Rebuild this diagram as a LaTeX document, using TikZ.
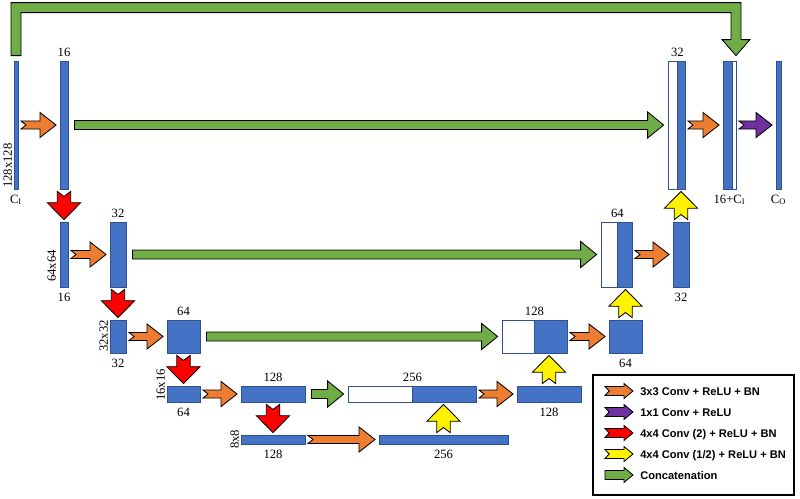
\documentclass[tikz,border=0pt]{standalone}
\usepackage{fontspec}
\newfontfamily\legendfont{Liberation Sans}
\newfontfamily\labelfont{Liberation Serif}
\usetikzlibrary{positioning,fit,calc}

\definecolor{blockblue}{HTML}{4472C4}
\definecolor{blockedge}{HTML}{2F528F}
\definecolor{convorange}{HTML}{ED7D31}
\definecolor{skipgreen}{HTML}{70AD47}
\definecolor{outpurple}{HTML}{7030A0}

\tikzset{
  dims/.code args={#1/#2/#3/#4}{\def\shaftw{#1}\def\headw{#2}\def\headl{#3}\def\notch{#4}},
  gaps/.code args={#1/#2}{\def\gapa{#1}\def\gapb{#2}}
}
% block arrow from #2 to #3
\newcommand{\fatarrow}[3][]{%
  \draw[#1] let \p1=(#2), \p2=(#3), \n1={veclen(\x2-\x1,\y2-\y1)}, \n2={atan2(\y2-\y1,\x2-\x1)} in
    [shift={(\p1)}, rotate=\n2]
    (\gapa,\shaftw) -- ({\n1-\gapb-\headl},\shaftw) -- ({\n1-\gapb-\headl},\headw) -- ({\n1-\gapb},0pt)
    -- ({\n1-\gapb-\headl},-\headw) -- ({\n1-\gapb-\headl},-\shaftw) -- (\gapa,-\shaftw)
    -- ({\gapa+\notch},0pt) -- cycle;}

\begin{document}
\begin{tikzpicture}[x=0.25mm, y=-0.25mm,
    blk/.style={draw=blockedge, fill=blockblue, line width=0.6pt, inner sep=0pt},
    catblk/.style={draw=blockedge, fill=white, line width=0.6pt, inner sep=0pt},
    num/.style={font=\labelfont\fontsize{9}{10}\selectfont, inner sep=1.5pt},
    side/.style={num, rotate=90, anchor=south west, inner sep=1pt},
    fat/.style={draw=black, line width=0.6pt, line join=miter},
    conv/.style={fat, fill=convorange, dims={2.85pt/8.9pt/11.4pt/3.6pt}, gaps={1.8pt/2.5pt}},
    outconv/.style={conv, fill=outpurple},
    downconv/.style={fat, fill=red, dims={4.8pt/11.8pt/12pt/3.6pt}, gaps={1.4pt/1.4pt}},
    upconv/.style={downconv, fill=yellow},
    skipcat/.style={fat, fill=skipgreen, dims={3.2pt/9.3pt/11.4pt/0pt}, gaps={4.3pt/2.8pt}},
    legarrow/.style={fat, gaps={0pt/0pt}},
    keytext/.style={font=\legendfont\bfseries\fontsize{7.9}{9}\selectfont, inner sep=0pt}]
    \useasboundingbox (0,0) rectangle (800,498);

    % feature maps
    \foreach \nm/\xa/\ya/\xb/\yb in {cin/14/61/18/189, e16/60/61/68/189, p16/60/222/68/287,
        e32/110/222/126/287, p32/110/320/126/353, e64/167/320/200/353, p64/167/386/200/402,
        e128/241/386/305/402, p128/241/435/305/444, e256/379/435/508/444, u128/517/386/581/402,
        u64/609/320/642/353, u32/673/222/689/287, d256b/412/386/476/402, d128b/534/320/567/353,
        d64b/617/222/632/287, d32b/677/61/685/189, ccb/723/61/732/189, cout/776/61/781/189}
        \node[blk, fit={(\xa,\ya) (\xb,\yb)}] (\nm) {};
    \foreach \nm/\xa/\ya/\xb/\yb in {d256w/348/386/412/402, d128w/502/320/534/353,
        d64w/601/222/617/287, d32w/668/61/677/189, ccw/732/61/736/189}
        \node[catblk, fit={(\xa,\ya) (\xb,\yb)}] (\nm) {};

    % channel counts and sizes
    \node[num, above=1pt of e16] (t-e16) {16};
    \node[num, above=1pt of d32w.north east] (t-d32) {32};
    \node[num, below=2pt of cin] (t-cin) {C\textsubscript{I}};
    \coordinate (ccmid) at ($(ccb.south west)!0.5!(ccw.south east)$);
    \node[num, below=2pt of ccmid] (t-cc) {16+C\textsubscript{I}};
    \node[num, below=2pt of cout] (t-cout) {C\textsubscript{O}};
    \node[num, below=2pt of p16] (t-p16) {16};
    \node[num, above=1pt of e32] (t-e32) {32};
    \node[num, above=1pt of d64w.north east] (t-d64) {64};
    \node[num, below=2pt of u32] (t-u32) {32};
    \node[num, below=2pt of p32] (t-p32) {32};
    \node[num, above=1pt of e64] (t-e64) {64};
    \node[num, above=1pt of d128w.north east] (t-d128) {128};
    \node[num, below=2pt of u64] (t-u64) {64};
    \node[num, below=2pt of p64] (t-p64) {64};
    \node[num, above=1pt of e128] (t-e128) {128};
    \node[num, above=1pt of d256w.north east] (t-d256) {256};
    \node[num, below=2pt of u128] (t-u128) {128};
    \node[num, below=2pt of p128] (t-p128) {128};
    \node[num, below=2pt of e256] (t-e256) {256};

    \node[side] (r-cin) at (cin.south west) {128x128};
    \node[side] (r-p16) at ($(p16.south west)+(-2,-4)$) {64x64};
    \node[side] (r-p32) at (p32.south west) {32x32};
    \node[side] (r-p64) at (p64.south west) {16x16};
    \node[side, anchor=south] (r-p128) at (p128.west) {8x8};

    % convolutions
    \fatarrow[conv]{cin.east}{e16.west}
    \fatarrow[conv]{p16.east}{e32.west}
    \fatarrow[conv]{p32.east}{e64.west}
    \fatarrow[conv]{p64.east}{e128.west}
    \fatarrow[conv]{p128.east}{e256.west}
    \fatarrow[conv]{d256b.east}{u128.west}
    \fatarrow[conv]{d128b.east}{u64.west}
    \fatarrow[conv]{d64b.east}{u32.west}
    \fatarrow[conv]{d32b.east}{ccb.west}
    \fatarrow[outconv]{ccw.east}{cout.west}

    \fatarrow[downconv]{e16.south}{p16.north}
    \fatarrow[downconv]{e32.south}{p32.north}
    \fatarrow[downconv]{e64.south}{p64.north}
    \fatarrow[downconv]{e128.south}{p128.north}

    \fatarrow[upconv]{e256.north}{e256.north |- d256b.south}
    \fatarrow[upconv]{u128.north}{u128.north |- d128b.south}
    \fatarrow[upconv]{u64.north}{u64.north |- d64b.south}
    \fatarrow[upconv]{u32.north}{u32.north |- d32b.south}

    % skip connections
    \fatarrow[skipcat]{e16.east}{d32w.west}
    \fatarrow[skipcat]{e32.east}{d64w.west}
    \fatarrow[skipcat]{e64.east}{d128w.west}
    \fatarrow[skipcat]{e128.east}{d256w.west}

    \coordinate (skipl) at ($(cin.north)+(0,-5)$);
    \coordinate (skipr) at ($(ccw.north)+(2,-5)$);
    \draw[fat, fill=skipgreen] ($(skipl)+(-5,0)$) |- ($(skipr)+(5,-53)$) -- ($(skipr)+(5,-16)$)
        -- ($(skipr)+(14,-16)$) -- (skipr) -- ($(skipr)+(-14,-16)$) -- ($(skipr)+(-5,-16)$)
        |- ($(skipl)+(5,-43)$) -- ($(skipl)+(5,0)$) -- cycle;

    % legend
    \node[draw=black, line width=2pt, inner sep=0pt, fit={(593,375) (794,495)}] (legend) {};
    \foreach \col/\nch/\txt [count=\i] in {convorange/3pt/{3x3 Conv + ReLU + BN},
        outpurple/3pt/{1x1 Conv + ReLU}, red/3pt/{4x4 Conv (2) + ReLU + BN},
        yellow/3pt/{4x4 Conv (1/2) + ReLU + BN}, skipgreen/0pt/{Concatenation}} {
        \coordinate (k\i) at (605,370+21*\i);
        \node[keytext, anchor=base west] (kt\i) at (640,374+21*\i) {\txt};
        \fatarrow[legarrow, fill=\col, dims={3.2pt/5.3pt/6.4pt/\nch}]{k\i}{$(k\i)+(28,0)$}
    }
\end{tikzpicture}
\end{document}
